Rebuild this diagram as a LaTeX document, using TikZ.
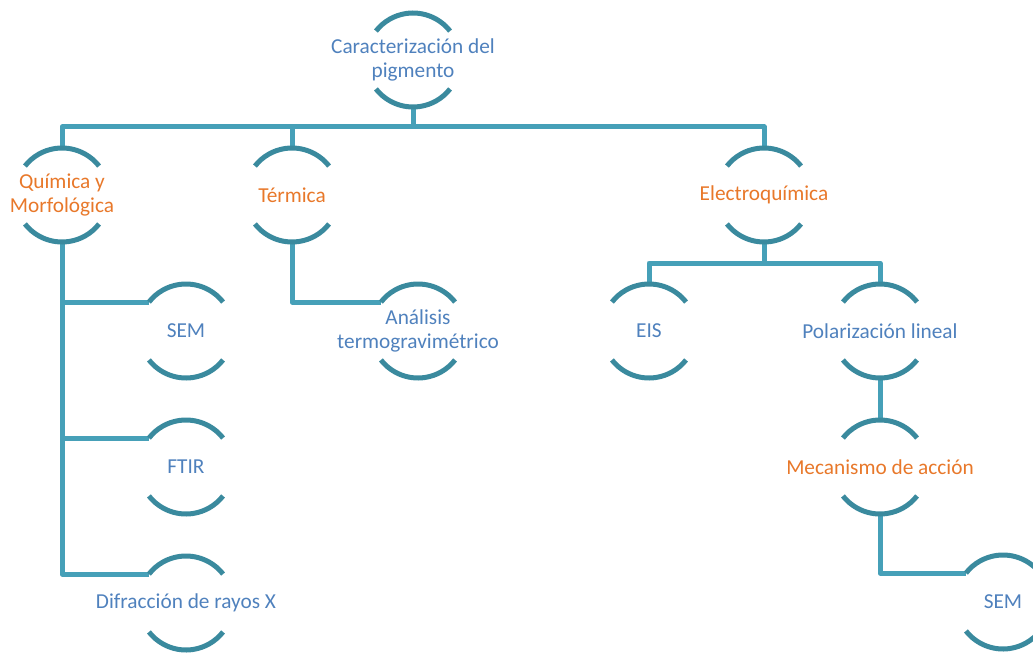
\documentclass[tikz,border=0pt]{standalone}
\usepackage{fontspec}
\setmainfont{Carlito}
\definecolor{arcc}{RGB}{58,138,158}
\definecolor{connc}{RGB}{70,160,184}
\definecolor{txtblue}{RGB}{79,129,189}
\definecolor{txtorange}{RGB}{232,120,42}
\begin{document}
\begin{tikzpicture}[x=1pt,y=1pt,
  hub/.style={circle,minimum size=94pt,inner sep=0pt,outer sep=0pt,draw=none},
  arcline/.style={draw=arcc,line width=5pt},
  conn/.style={draw=connc,line width=5pt,line join=round},
  lbl/.style={align=center,inner sep=0pt,font=\fontsize{21.3}{24}\selectfont},
  lblb/.style={lbl,text=txtblue},
  lblo/.style={lbl,text=txtorange}]
\useasboundingbox (0,0) rectangle (1033,-655);
\clip (0,0) rectangle (1033,-655);
% hubs
\node[hub] (root) at (413,-60) {};
\node[hub] (quim) at (62,-195) {};
\node[hub] (term) at (292,-195) {};
\node[hub] (elec) at (764,-195) {};
\node[hub] (sem1) at (186,-331) {};
\node[hub] (ana) at (418,-331) {};
\node[hub] (ftir) at (186,-467) {};
\node[hub] (drx) at (186,-603) {};
\node[hub] (eis) at (649,-331) {};
\node[hub] (pol) at (880,-331) {};
\node[hub] (mec) at (880,-467) {};
\node[hub] (sem2) at (1003,-602) {};
% connectors
\draw[conn] (root.south) -- ++(0,-20) coordinate (bar);
\draw[conn] (bar) -| (quim.north);
\draw[conn] (bar) -| (term.north);
\draw[conn] (bar) -| (elec.north);
\draw[conn] (quim.south) |- (sem1.142);
\draw[conn] (quim.south) |- (ftir.142);
\draw[conn] (quim.south) |- (drx.142);
\draw[conn] (term.south) |- (ana.142);
\draw[conn] (elec.south) -- ++(0,-21) coordinate (ebar);
\draw[conn] (ebar) -| (eis.north);
\draw[conn] (ebar) -| (pol.north);
\draw[conn] (pol.south) -- (mec.north);
\draw[conn] (mec.south) |- (sem2.142);
% arcs
\foreach \n in {root,quim,term,elec,sem1,ana,ftir,drx,eis,pol,mec,sem2}{
  \draw[arcline] (\n.38) arc[start angle=38,end angle=142,radius=47pt];
  \draw[arcline] (\n.218) arc[start angle=218,end angle=322,radius=47pt];
}
% labels
\node[lblb] (root-t) at (root) {Caracterización del\\pigmento};
\node[lblo] (quim-t) at (quim) {Química y\\Morfológica};
\node[lblo] (term-t) at (term) {Térmica};
\node[lblo] (elec-t) at (elec) {Electroquímica};
\node[lblb] (sem1-t) at (sem1) {SEM};
\node[lblb] (ana-t) at (ana) {Análisis\\termogravimétrico};
\node[lblb] (ftir-t) at (ftir) {FTIR};
\node[lblb] (drx-t) at (drx) {Difracción de rayos X};
\node[lblb] (eis-t) at (eis) {EIS};
\node[lblb] (pol-t) at (pol) {Polarización lineal};
\node[lblo] (mec-t) at (mec) {Mecanismo de acción};
\node[lblb] (sem2-t) at (sem2) {SEM};
\end{tikzpicture}
\end{document}
